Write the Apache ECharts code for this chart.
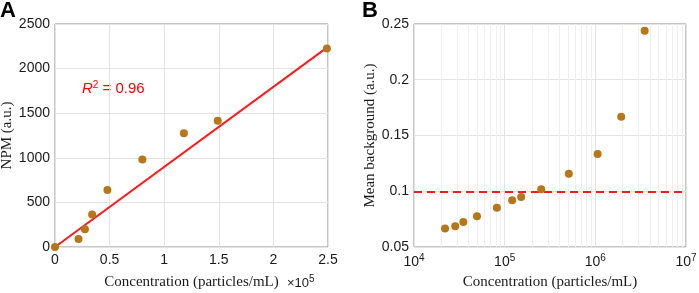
<!DOCTYPE html>
<html>
<head>
<meta charset="utf-8">
<script src="https://cdn.jsdelivr.net/npm/echarts@6/dist/echarts.min.js"></script>
<style>
  html, body { margin: 0; padding: 0; background: #fff; }
  #chart { width: 699px; height: 293px; }
</style>
</head>
<body>
<div id="chart"></div>
<script>
// panel A: NPM vs concentration (x in units of 1e5 particles/mL)
const npmConc = [0, 0.215, 0.274, 0.34, 0.48, 0.80, 1.18, 1.49, 2.49]
const npmVal = [0, 90, 200, 365, 640, 980, 1275, 1415, 2225]
const fitLine = [[0, 0], [2.49, 2235]]
const r2Text = '0.96'

// panel B: mean background vs concentration (log x)
const bgConc = [2.2e4, 2.85e4, 3.5e4, 4.95e4, 8.2e4, 1.21e5, 1.52e5, 2.53e5, 5.1e5, 1.06e6, 1.93e6, 3.5e6]
const bgVal = [0.0667, 0.0685, 0.0724, 0.0775, 0.0853, 0.0919, 0.0948, 0.1017, 0.1158, 0.1334, 0.1669, 0.2440]
const threshold = 0.1

const dotColor = '#b8761a'
const sansFont = '"Liberation Sans", Arial, sans-serif'
const serifFont = '"Liberation Serif", "Times New Roman", serif'

// minor log grid lines (2..9 x 10^d)
const minorLines = []
for (let d = 4; d < 7; d++) {
  for (let k = 2; k <= 9; k++) {
    minorLines.push({ xAxis: k * Math.pow(10, d) })
  }
}

const chart = echarts.init(document.getElementById('chart'))

const tickLabel = {
  color: '#1a1a1a',
  fontFamily: sansFont,
  fontSize: 14
}
const nameStyle = {
  color: '#1a1a1a',
  fontFamily: serifFont,
  fontSize: 15
}
const splitLine = { show: true, lineStyle: { color: '#e3e3e3', width: 1 } }

chart.setOption({
  animation: false,
  grid: [
    { left: 55, right: 371, top: 24, bottom: 46, outerBoundsMode: 'none', containLabel: false, show: true, borderColor: '#8c8c8c', borderWidth: 1 },
    { left: 414, right: 13, top: 24, bottom: 46, outerBoundsMode: 'none', containLabel: false, show: true, borderColor: '#8c8c8c', borderWidth: 1 }
  ],
  xAxis: [
    {
      gridIndex: 0,
      type: 'value',
      min: 0,
      max: 2.5,
      interval: 0.5,
      axisLine: { show: false },
      axisTick: { show: false },
      axisLabel: Object.assign({ margin: 6, formatter: v => String(v) }, tickLabel),
      splitLine: splitLine,
      name: 'Concentration (particles/mL)',
      nameLocation: 'middle',
      nameGap: 28,
      nameTextStyle: nameStyle
    },
    {
      gridIndex: 1,
      type: 'log',
      logBase: 10,
      min: 1e4,
      max: 1e7,
      axisLine: { show: false },
      axisTick: { show: false },
      axisLabel: Object.assign({
        margin: 6,
        formatter: function (v) {
          return '10{sup|' + Math.round(Math.log10(v)) + '}'
        },
        rich: {
          sup: { fontSize: 10, fontFamily: sansFont, color: '#1a1a1a', verticalAlign: 'top', padding: [0, 0, 8, 0] }
        }
      }, tickLabel),
      splitLine: splitLine,
      name: 'Concentration (particles/mL)',
      nameLocation: 'middle',
      nameGap: 28,
      nameTextStyle: nameStyle
    }
  ],
  yAxis: [
    {
      gridIndex: 0,
      type: 'value',
      min: 0,
      max: 2500,
      interval: 500,
      axisLine: { show: false },
      axisTick: { show: false },
      axisLabel: Object.assign({ margin: 5, formatter: v => String(v) }, tickLabel),
      splitLine: splitLine,
      name: 'NPM (a.u.)',
      nameLocation: 'middle',
      nameGap: 37,
      nameTextStyle: nameStyle
    },
    {
      gridIndex: 1,
      type: 'value',
      min: 0.05,
      max: 0.25,
      interval: 0.05,
      axisLine: { show: false },
      axisTick: { show: false },
      axisLabel: Object.assign({
        margin: 5,
        formatter: function (v) { return String(+v.toFixed(2)) }
      }, tickLabel),
      splitLine: splitLine,
      name: 'Mean background (a.u.)',
      nameLocation: 'middle',
      nameGap: 35,
      nameTextStyle: nameStyle
    }
  ],
  graphic: [
    { type: 'text', left: 0, top: 0, style: { text: 'A', font: 'bold 22px ' + sansFont, fill: '#000' } },
    { type: 'text', left: 362, top: 0, style: { text: 'B', font: 'bold 22px ' + sansFont, fill: '#000' } },
    {
      type: 'text', left: 82, top: 80,
      style: {
        text: '{i|R}{s|2} = ' + r2Text,
        fill: '#ff0000',
        font: '15px ' + sansFont,
        rich: {
          i: { fontStyle: 'italic', fontSize: 15, fontFamily: sansFont, fill: '#ff0000' },
          s: { fontSize: 10, fontFamily: sansFont, fill: '#ff0000', verticalAlign: 'top', padding: [0, 0, 8, 0] }
        }
      }
    },
    {
      type: 'text', left: 287, top: 274,
      style: {
        text: '\u00d710{s|5}',
        fill: '#1a1a1a',
        font: '13px ' + sansFont,
        rich: {
          s: { fontSize: 10, fontFamily: sansFont, fill: '#1a1a1a', verticalAlign: 'top', padding: [0, 0, 8, 0] }
        }
      }
    }
  ],
  series: [
    {
      type: 'line',
      xAxisIndex: 0,
      yAxisIndex: 0,
      data: fitLine,
      showSymbol: false,
      lineStyle: { color: '#ff1a1a', width: 2 },
      z: 2
    },
    {
      type: 'scatter',
      xAxisIndex: 0,
      yAxisIndex: 0,
      data: npmConc.map((x, i) => [x, npmVal[i]]),
      symbolSize: 8,
      itemStyle: { color: dotColor, opacity: 1 },
      z: 3
    },
    {
      // minor log grid lines, drawn under everything
      type: 'scatter',
      xAxisIndex: 1,
      yAxisIndex: 1,
      data: [],
      z: 0,
      markLine: {
        z: 0,
        silent: true,
        symbol: 'none',
        label: { show: false },
        lineStyle: { color: '#efefef', width: 1, type: 'solid' },
        data: minorLines
      }
    },
    {
      type: 'scatter',
      xAxisIndex: 1,
      yAxisIndex: 1,
      data: [],
      z: 1,
      markLine: {
        z: 1,
        silent: true,
        symbol: 'none',
        label: { show: false },
        lineStyle: { color: '#ff1a1a', width: 2, type: [8, 5] },
        data: [{ yAxis: threshold }]
      }
    },
    {
      type: 'scatter',
      xAxisIndex: 1,
      yAxisIndex: 1,
      data: bgConc.map((x, i) => [x, bgVal[i]]),
      symbolSize: 8,
      itemStyle: { color: dotColor, opacity: 1 },
      z: 3
    }
  ]
})
</script>
</body>
</html>
